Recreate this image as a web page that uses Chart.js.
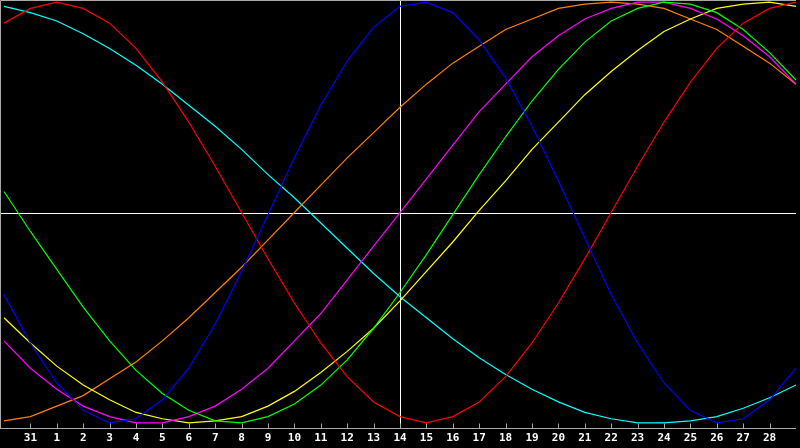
<!DOCTYPE html>
<html>
<head>
<meta charset="utf-8">
<script src="https://cdn.jsdelivr.net/npm/chart.js@4/dist/chart.umd.min.js"></script>
<style>
    html, body { margin: 0; padding: 0; background: #000; }
    canvas { display: block; }
</style>
</head>
<body>
<canvas id="bioChart" width="800" height="448"></canvas>
<script>
// Day labels along the bottom (Jan 30 .. Mar 1), ends are not labelled
const days = ['30', '31', '1', '2', '3', '4', '5', '6', '7', '8', '9', '10', '11', '12', '13', '14',
    '15', '16', '17', '18', '19', '20', '21', '22', '23', '24', '25', '26', '27', '28', '1'];
const todayIndex = 15; // day 14, marked with the vertical line

// Cycle values in percent, one per day
const physical = [-39, -62, -81, -94, -100, -98, -89, -74, -53, -28, -1, 26, 51, 72, 88, 98,
    100, 95, 82, 64, 41, 15, -12, -39, -62, -81, -94, -100, -98, -89, -74];
const emotional = [90, 97, 100, 97, 90, 78, 62, 43, 22, 0, -22, -43, -62, -78, -90, -97,
    -100, -97, -90, -78, -62, -43, -22, 0, 22, 43, 62, 78, 90, 97, 100];
const intellectual = [10, -9, -27, -45, -61, -75, -86, -94, -99, -100, -97, -91, -82, -70, -55, -38,
    -20, -1, 18, 36, 53, 68, 81, 91, 97, 100, 99, 95, 87, 76, 63];
const intuitive = [-61, -74, -84, -92, -97, -100, -100, -97, -92, -84, -74, -61, -48, -32, -16, 0,
    16, 32, 48, 61, 74, 84, 92, 97, 100, 100, 97, 92, 84, 74, 61];
const aesthetic = [-50, -62, -73, -82, -89, -95, -98, -100, -99, -97, -92, -85, -76, -66, -55, -42,
    -28, -14, 1, 15, 30, 43, 56, 67, 77, 86, 92, 97, 99, 100, 98];
const awareness = [-99, -97, -92, -87, -79, -71, -61, -50, -38, -26, -13, 0, 13, 26, 38, 50,
    61, 71, 79, 87, 92, 97, 99, 100, 99, 97, 92, 87, 79, 71, 61];
const spiritual = [98, 95, 91, 85, 78, 70, 61, 51, 41, 30, 18, 7, -5, -17, -29, -40,
    -50, -60, -69, -77, -84, -90, -95, -98, -100, -100, -99, -97, -93, -88, -82];

const frameColor = '#a8a8a8';

// Border, inner tick marks and the zero / today cross lines
const framePlugin = {
    id: 'frame',
    beforeDatasetsDraw(chart) {
        const ctx = chart.ctx;
        const area = chart.chartArea;
        const x = chart.scales.x;
        const y = chart.scales.y;
        ctx.save();
        ctx.lineWidth = 1;
        ctx.strokeStyle = '#ffffff';
        const zeroY = Math.round(y.getPixelForValue(0)) + 0.5;
        const todayX = Math.round(x.getPixelForValue(todayIndex)) + 0.5;
        ctx.beginPath();
        ctx.moveTo(0, zeroY);
        ctx.lineTo(area.right, zeroY);
        ctx.moveTo(todayX, area.top);
        ctx.lineTo(todayX, area.bottom);
        ctx.stroke();
        ctx.restore();
    },
    afterDraw(chart) {
        const ctx = chart.ctx;
        const area = chart.chartArea;
        const x = chart.scales.x;
        const bottom = Math.round(area.bottom) + 0.5;
        ctx.save();
        ctx.lineWidth = 1;
        ctx.strokeStyle = frameColor;
        ctx.beginPath();
        ctx.moveTo(0.5, bottom);
        ctx.lineTo(0.5, 0.5);
        ctx.lineTo(area.right, 0.5);
        ctx.moveTo(0, bottom);
        ctx.lineTo(area.right, bottom);
        for (let i = 1; i < days.length - 1; i++) {
            const px = Math.round(x.getPixelForTick(i)) + 0.5;
            ctx.moveTo(px, bottom - 5);
            ctx.lineTo(px, bottom);
        }
        ctx.stroke();
        ctx.restore();
    }
};

function line(data, color) {
    return {
        data: data,
        borderColor: color,
        borderWidth: 1.2,
        pointRadius: 0,
        tension: 0,
        fill: false
    };
}

const ctx = document.getElementById('bioChart').getContext('2d');
const bioChart = new Chart(ctx, {
    type: 'line',
    data: {
        labels: days,
        datasets: [
            line(physical, '#0000ff'),
            line(emotional, '#ff0000'),
            line(intellectual, '#00ff00'),
            line(intuitive, '#ff00ff'),
            line(aesthetic, '#ffff00'),
            line(awareness, '#ff8000'),
            line(spiritual, '#00ffff')
        ]
    },
    options: {
        responsive: false,
        animation: false,
        devicePixelRatio: 1,
        layout: { padding: 0 },
        plugins: {
            legend: { display: false },
            tooltip: { enabled: false }
        },
        scales: {
            x: {
                type: 'category',
                offset: false,
                grid: { display: false, drawTicks: false },
                border: { display: false },
                afterFit(scale) { scale.height = 20; },
                ticks: {
                    color: '#ffffff',
                    padding: 4,
                    maxRotation: 0,
                    autoSkip: false,
                    font: { family: 'DejaVu Sans Mono', size: 11, weight: 'bold' },
                    callback: function(value, index) {
                        return (index === 0 || index === days.length - 1) ? '' : days[index];
                    }
                }
            },
            y: {
                display: false,
                min: -102.4,
                max: 101
            }
        }
    },
    plugins: [framePlugin]
});
</script>
</body>
</html>
